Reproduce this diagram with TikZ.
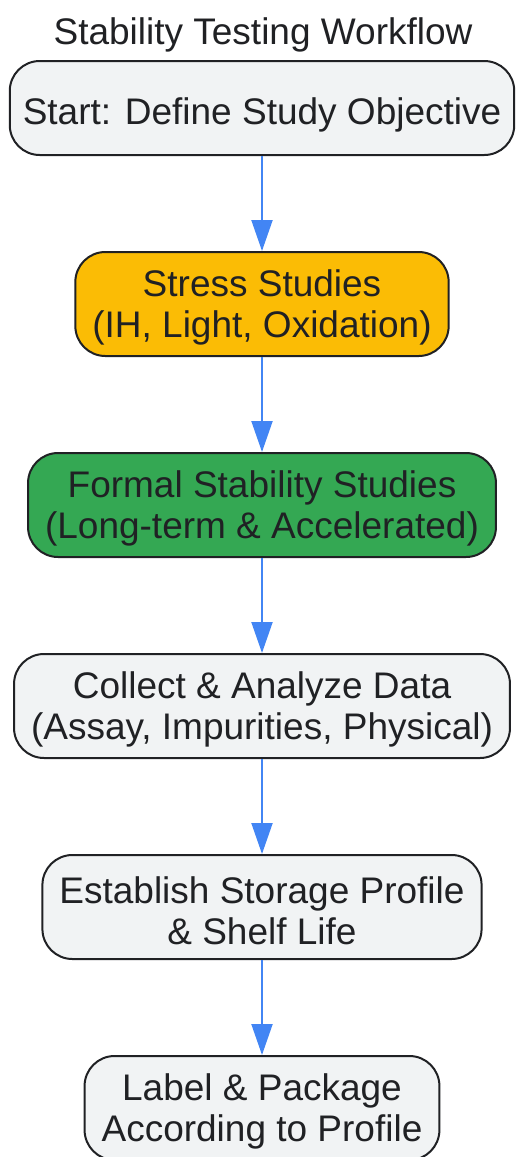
\documentclass[tikz,border=0pt]{standalone}
\usepackage{fontspec}
\setmainfont{Liberation Sans}
\usetikzlibrary{positioning,arrows.meta}
\definecolor{inkdark}{HTML}{202124}
\definecolor{boxgray}{HTML}{F1F3F4}
\definecolor{stressorange}{HTML}{FBBC05}
\definecolor{formalgreen}{HTML}{34A853}
\definecolor{flowblue}{HTML}{4285F4}
\newcommand\lift[1]{\rule{0pt}{#1}}
\tikzset{
	stage/.style={
			draw=inkdark, line width=2pt, rounded corners=30pt,
			align=center, inner xsep=17pt, minimum height=104pt,
			font=\fontsize{37}{41}\selectfont, text=inkdark},
	flow/.style={
			draw=flowblue, line width=2pt,
			-{Triangle[width=21pt,length=31pt]}}
}
\begin{document}
\begin{tikzpicture}[x=1pt,y=1pt]
			\useasboundingbox (0,0) rectangle (515,-1157);
			\node[anchor=base, font=\fontsize{37}{41}\selectfont, text=inkdark] (title) at (263,-44) {Stability Testing Workflow};

			\node[stage, fill=boxgray, minimum height=94pt, inner xsep=13pt] (start) at (262,-108) {\lift{40pt}Start: Define Study Objective};
			\node[stage, fill=stressorange, below=95pt of start] (stress) {\lift{34pt}Stress Studies\\(IH, Light, Oxidation)};
			\node[stage, fill=formalgreen, below=95pt of stress] (formal) {\lift{34pt}Formal Stability Studies\\(Long-term \& Accelerated)};
			\node[stage, fill=boxgray, below=95pt of formal] (collect) {\lift{34pt}Collect \& Analyze Data\\(Assay, Impurities, Physical)};
			\node[stage, fill=boxgray, below=95pt of collect] (profile) {\lift{34pt}Establish Storage Profile\\\& Shelf Life};
			\node[stage, fill=boxgray, below=95pt of profile] (label) {\lift{34pt}Label \& Package\\According to Profile};

			\draw[flow] (start) -- (stress);
			\draw[flow] (stress) -- (formal);
			\draw[flow] (formal) -- (collect);
			\draw[flow] (collect) -- (profile);
			\draw[flow] (profile) -- (label);
		\end{tikzpicture}
\end{document}
